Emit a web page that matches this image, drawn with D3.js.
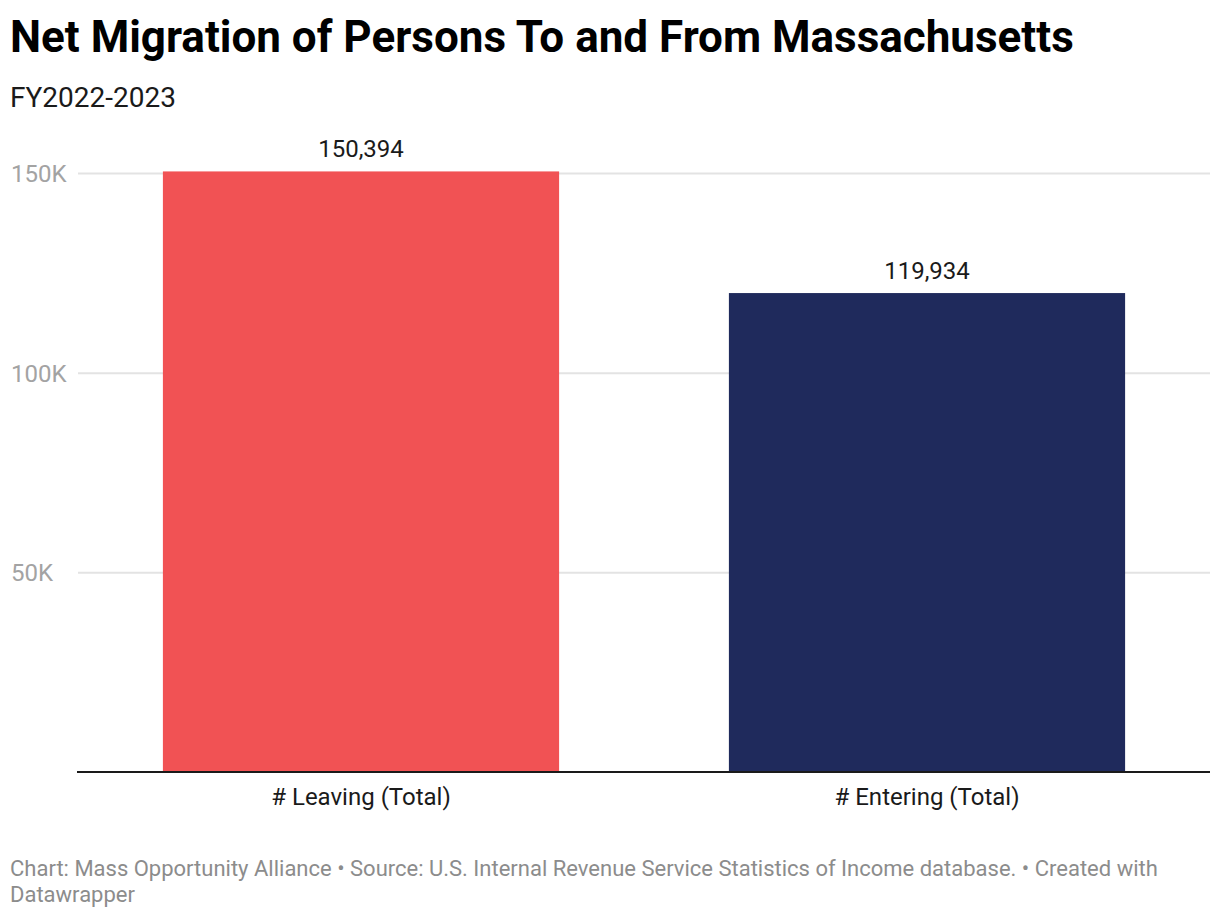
<!DOCTYPE html>
<html>
<head>
<meta charset="utf-8">
<script src="https://cdn.jsdelivr.net/npm/d3@7"></script>
<style>
  body { margin: 0; background: #fff; font-family: Roboto, "Noto Sans", sans-serif; }
  svg text { font-family: Roboto, "Noto Sans", sans-serif; }
</style>
</head>
<body>
<div id="chart"></div>
<script>
// Chart data
const categories = ["# Leaving (Total)", "# Entering (Total)"];
const values = [150394, 119934];
const barColors = ["#f15254", "#1f2a5c"];
const yTicks = [50000, 100000, 150000];
const yTickLabels = ["50K", "100K", "150K"];

const W = 1220, H = 918;
const margin = { top: 173, right: 10, bottom: 146, left: 78 };

const svg = d3.select("#chart")
    .append("svg")
    .attr("width", W)
    .attr("height", H);

// Title block
svg.append("text")
    .attr("x", 10).attr("y", 52)
    .attr("font-size", "44px")
    .attr("font-weight", "bold")
    .attr("fill", "#000")
    .text("Net Migration of Persons To and From Massachusetts");

svg.append("text")
    .attr("x", 10).attr("y", 107)
    .attr("font-size", "28px")
    .attr("fill", "#1a1a1a")
    .text("FY2022-2023");

// Scales
const x = d3.scaleBand()
    .domain(categories)
    .range([margin.left, W - margin.right])
    .paddingInner(0.3)
    .paddingOuter(0.15);

const y = d3.scaleLinear()
    .domain([0, 150000])
    .range([H - margin.bottom, margin.top]);

// Gridlines + y labels
const yAxis = svg.append("g")
    .attr("transform", `translate(${margin.left},0)`)
    .call(d3.axisLeft(y)
        .tickValues(yTicks)
        .tickSize(-(W - margin.left - margin.right))
        .tickFormat((d, i) => yTickLabels[i]));

yAxis.select(".domain").remove();
yAxis.selectAll(".tick line")
    .attr("stroke", "#e3e3e3")
    .attr("stroke-width", 2);
yAxis.selectAll(".tick text")
    .attr("x", -67)
    .attr("text-anchor", "start")
    .attr("dy", "0.36em")
    .attr("font-size", "24px")
    .attr("fill", "#a3a3a3");

// Bars
svg.append("g")
    .selectAll("rect")
    .data(values)
    .join("rect")
    .attr("x", (d, i) => x(categories[i]))
    .attr("y", d => y(d))
    .attr("width", x.bandwidth())
    .attr("height", d => y(0) - y(d))
    .attr("fill", (d, i) => barColors[i]);

// Value labels
svg.append("g")
    .selectAll("text")
    .data(values)
    .join("text")
    .attr("x", (d, i) => x(categories[i]) + x.bandwidth() / 2)
    .attr("y", d => y(d) - 14)
    .attr("text-anchor", "middle")
    .attr("font-size", "24px")
    .attr("fill", "#1a1a1a")
    .text(d => d3.format(",")(d));

// Baseline
svg.append("line")
    .attr("x1", margin.left - 1)
    .attr("x2", W - margin.right)
    .attr("y1", y(0))
    .attr("y2", y(0))
    .attr("stroke", "#1a1a1a")
    .attr("stroke-width", 2);

// Category labels
const xAxis = svg.append("g")
    .attr("transform", `translate(0,${y(0)})`)
    .call(d3.axisBottom(x).tickSize(0));
xAxis.select(".domain").remove();
xAxis.selectAll(".tick text")
    .attr("dy", 0)
    .attr("y", 33)
    .attr("font-size", "24px")
    .attr("fill", "#1a1a1a");

// Footer
const footer = svg.append("text")
    .attr("x", 10)
    .attr("font-size", "22px")
    .attr("fill", "#8c8c8c");
footer.append("tspan").attr("x", 10).attr("y", 876)
    .text("Chart: Mass Opportunity Alliance • Source: U.S. Internal Revenue Service Statistics of Income database. • Created with");
footer.append("tspan").attr("x", 10).attr("y", 902)
    .text("Datawrapper");
</script>
</body>
</html>
